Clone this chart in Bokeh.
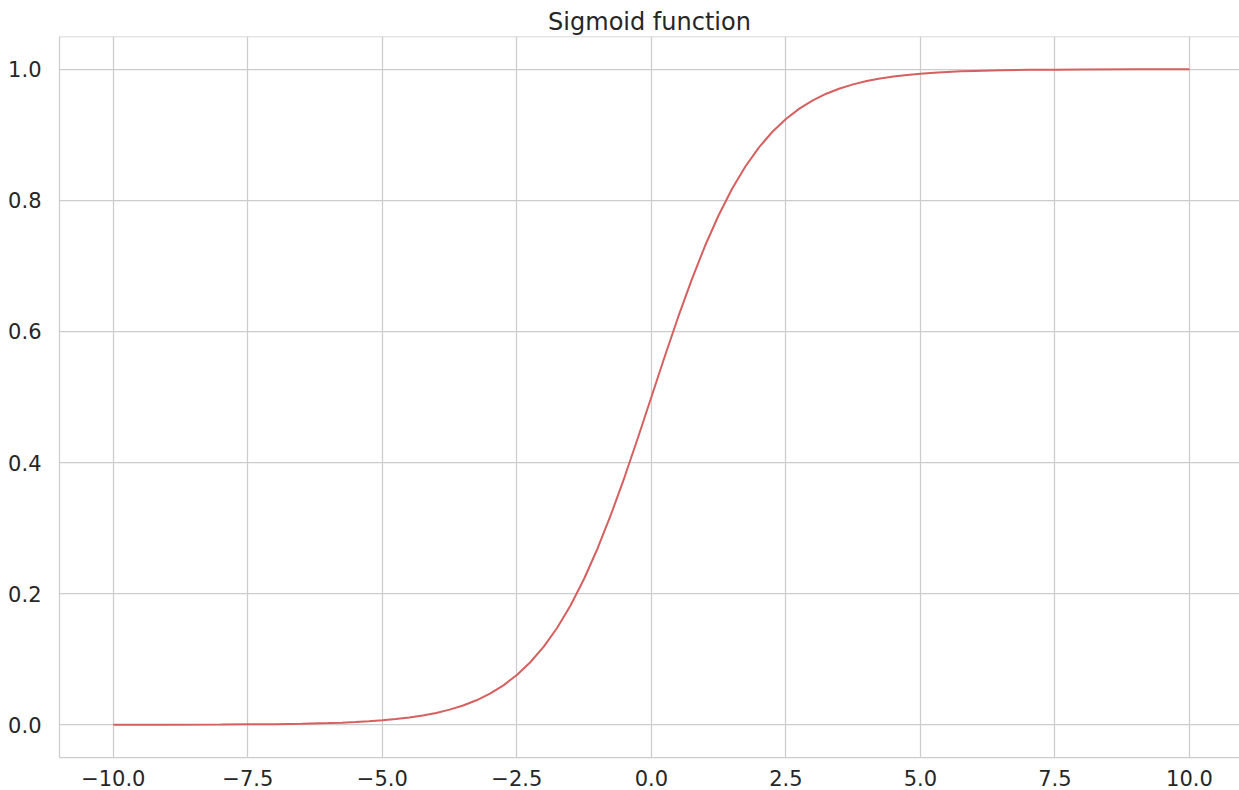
from bokeh.plotting import figure
from bokeh.models import FixedTicker, Span, Range1d
from bokeh.embed import file_html
from bokeh.resources import INLINE

# Data
x_vals = [-10, -9, -8, -7.5, -7, -6.5, -6, -5.75, -5.5, -5.25, -5, -4.75, -4.5, -4.25,
          -4, -3.75, -3.5, -3.25, -3, -2.75, -2.5, -2.25, -2, -1.75, -1.5, -1.25, -1,
          -0.75, -0.5, -0.25, 0, 0.25, 0.5, 0.75, 1, 1.25, 1.5, 1.75, 2, 2.25, 2.5,
          2.75, 3, 3.25, 3.5, 3.75, 4, 4.25, 4.5, 4.75, 5, 5.25, 5.5, 5.75, 6, 6.5,
          7, 7.5, 8, 9, 10]
y_vals = [0.0000, 0.0001, 0.0003, 0.0006, 0.0009, 0.0015, 0.0025, 0.0032, 0.0041, 0.0052,
          0.0067, 0.0086, 0.0110, 0.0141, 0.0180, 0.0230, 0.0293, 0.0373, 0.0474, 0.0601,
          0.0759, 0.0953, 0.1192, 0.1480, 0.1824, 0.2227, 0.2689, 0.3208, 0.3775, 0.4378,
          0.5000, 0.5622, 0.6225, 0.6792, 0.7311, 0.7773, 0.8176, 0.8520, 0.8808, 0.9047,
          0.9241, 0.9399, 0.9526, 0.9627, 0.9707, 0.9770, 0.9820, 0.9859, 0.9890, 0.9914,
          0.9933, 0.9948, 0.9959, 0.9968, 0.9975, 0.9985, 0.9991, 0.9994, 0.9997, 0.9999,
          1.0000]

x_ticks = [-10, -7.5, -5, -2.5, 0, 2.5, 5, 7.5, 10]
x_tick_labels = ["\u221210.0", "\u22127.5", "\u22125.0", "\u22122.5", "0.0", "2.5", "5.0", "7.5", "10.0"]
y_ticks = [0, 0.2, 0.4, 0.6, 0.8, 1.0]
y_tick_labels = ["0.0", "0.2", "0.4", "0.6", "0.8", "1.0"]

TEXT = "#262626"
GRID = "#cccccc"
FONT = "DejaVu Sans"

p = figure(width=1239, height=790, output_backend="svg", toolbar_location=None,
           x_range=Range1d(-11, 10.93), y_range=Range1d(-0.05, 1.05),
           min_border_left=59, min_border_right=0, min_border_top=36, min_border_bottom=33,
           title="Sigmoid function")
p.background_fill_color = "white"
p.border_fill_color = "white"
p.outline_line_color = None

p.title.text_font = FONT
p.title.text_font_size = "24px"
p.title.text_font_style = "normal"
p.title.text_color = TEXT
p.title.align = "center"
p.title.standoff = 2

p.line(x_vals, y_vals, line_color="#d65f5f", line_width=2)

p.xaxis.ticker = FixedTicker(ticks=x_ticks)
p.yaxis.ticker = FixedTicker(ticks=y_ticks)
p.xaxis.major_label_overrides = {t: l for t, l in zip(x_ticks, x_tick_labels)}
p.yaxis.major_label_overrides = {t: l for t, l in zip(y_ticks, y_tick_labels)}

for ax in (p.xaxis, p.yaxis):
    ax.axis_line_color = GRID
    ax.axis_line_width = 1.25
    ax.major_tick_line_color = None
    ax.minor_tick_line_color = None
    ax.major_label_text_font = FONT
    ax.major_label_text_font_size = "21px"
    ax.major_label_text_color = TEXT
p.xaxis.major_label_standoff = 6
p.yaxis.major_label_standoff = 12

p.xgrid.grid_line_color = GRID
p.ygrid.grid_line_color = GRID
p.xgrid.grid_line_width = 1.25
p.ygrid.grid_line_width = 1.25

p.add_layout(Span(location=1.05, dimension="width", line_color=GRID, line_width=1.25))

open("out.html", "w").write(file_html(p, INLINE))
